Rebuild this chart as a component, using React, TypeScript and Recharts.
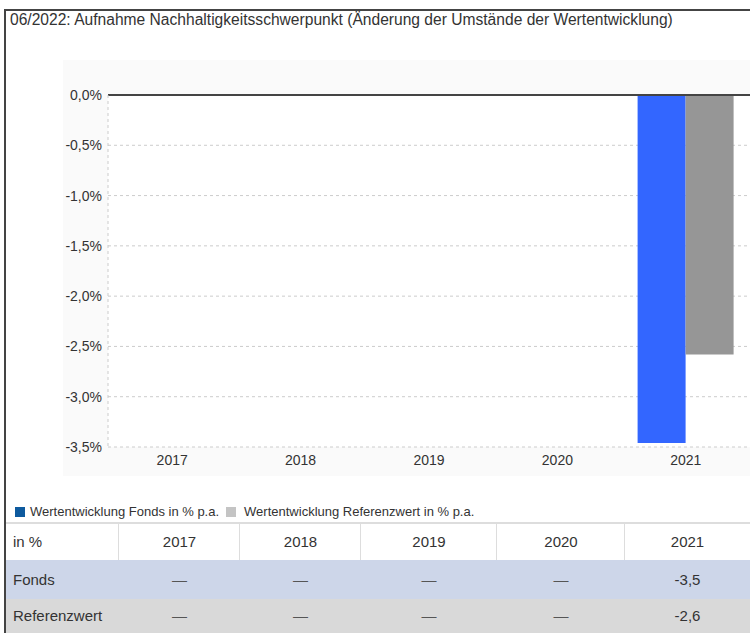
import React from 'react';
import { BarChart, Bar, XAxis, YAxis, CartesianGrid, ReferenceLine } from 'recharts';

const years = ['2017', '2018', '2019', '2020', '2021'];
const fondsValues: (number | null)[] = [null, null, null, null, -3.46];
const refValues: (number | null)[] = [null, null, null, null, -2.58];
const yTicks = [0, -0.5, -1, -1.5, -2, -2.5, -3, -3.5];
const title = '06/2022: Aufnahme Nachhaltigkeitsschwerpunkt (Änderung der Umstände der Wertentwicklung)';
const legendLabels = ['Wertentwicklung Fonds in % p.a.', 'Wertentwicklung Referenzwert in % p.a.'];
const rowLabels = ['Fonds', 'Referenzwert'];
const headerLabel = 'in %';

const data = years.map((y, i) => ({ year: y, fonds: fondsValues[i], referenz: refValues[i] }));

const FONT = '"Liberation Sans", Arial, sans-serif';
const fmtTick = (v: number) => v.toFixed(1).replace('.', ',') + '%';
const fmtCell = (v: number | null) => (v === null ? '—' : (Math.round(v * 10) / 10).toFixed(1).replace('.', ','));

const colEdges = [5, 119, 240, 361, 497, 625, 750];

export default function App() {
  const rows = [fondsValues, refValues];
  const rowBg = ['#cdd6e9', '#d9d9d9'];
  const rowTop = [560, 599];
  const rowH = [39, 34];
  return (
    <div style={{ position: 'absolute', left: 0, top: 0, width: 750, height: 633, overflow: 'hidden', background: '#fff', fontFamily: FONT }}>
      <div style={{ position: 'absolute', left: 4, top: 9, width: 2, height: 624, background: '#444' }} />
      <div style={{ position: 'absolute', left: 4, top: 9, width: 746, height: 2, background: '#444' }} />
      <div style={{ position: 'absolute', left: 10, top: 11, fontSize: 15.6, color: '#333', whiteSpace: 'nowrap' }}>{title}</div>
      <div style={{ position: 'absolute', left: 63, top: 60, width: 687, height: 416, background: '#fafafa' }} />
      <div style={{ position: 'absolute', left: 108, top: 95, width: 642, height: 352, background: '#fff' }} />
      <div style={{ position: 'absolute', left: 0, top: 0 }}>
        <BarChart width={750} height={476} data={data} margin={{ top: 95, right: 0, bottom: 0, left: 0 }} barCategoryGap={16} barGap={0}>
          <CartesianGrid horizontal={true} vertical={false} stroke="#cccccc" strokeDasharray="3 3" />
          <XAxis dataKey="year" height={29} axisLine={false} tickLine={false} tickSize={0} tickMargin={8} tick={{ fill: '#333', fontSize: 14, fontFamily: FONT }} interval={0} />
          <YAxis width={108} domain={[-3.5, 0]} ticks={yTicks} tickFormatter={fmtTick} axisLine={{ stroke: '#cccccc', strokeDasharray: '3 3' }} tickLine={false} tickSize={0} tickMargin={6} tick={{ fill: '#333', fontSize: 14, fontFamily: FONT }} interval={0} />
          <Bar dataKey="fonds" fill="#3366ff" isAnimationActive={false} />
          <Bar dataKey="referenz" fill="#969696" isAnimationActive={false} />
          <ReferenceLine y={0} stroke="#444" strokeWidth={2} />
        </BarChart>
      </div>
      <div style={{ position: 'absolute', left: 15, top: 504, display: 'flex', alignItems: 'center', fontSize: 13, color: '#333', whiteSpace: 'nowrap' }}>
        <span style={{ display: 'inline-block', width: 10, height: 10, background: '#0e5a9e', marginRight: 5 }} />
        <span style={{ marginRight: 7 }}>{legendLabels[0]}</span>
        <span style={{ display: 'inline-block', width: 10, height: 10, background: '#c4c4c4', marginRight: 8 }} />
        <span>{legendLabels[1]}</span>
      </div>
      <div style={{ position: 'absolute', left: 6, top: 522, width: 744, height: 2, background: '#dddddd' }} />
      {colEdges.slice(1, -1).map((x, i) => (
        <div key={'sep' + i} style={{ position: 'absolute', left: x - 1, top: 524, width: 1, height: 36, background: '#dddddd' }} />
      ))}
      <div style={{ position: 'absolute', left: 13, top: 524, height: 36, lineHeight: '36px', fontSize: 15, color: '#333' }}>{headerLabel}</div>
      {years.map((y, i) => (
        <div key={'h' + y} style={{ position: 'absolute', left: colEdges[i + 1], width: colEdges[i + 2] - colEdges[i + 1], top: 524, height: 36, lineHeight: '36px', textAlign: 'center', fontSize: 15, color: '#333' }}>{y}</div>
      ))}
      {rows.map((vals, r) => (
        <React.Fragment key={'r' + r}>
          <div style={{ position: 'absolute', left: 6, top: rowTop[r], width: 744, height: rowH[r], background: rowBg[r] }} />
          <div style={{ position: 'absolute', left: 13, top: rowTop[r], height: rowH[r], lineHeight: rowH[r] + 'px', fontSize: 15, color: '#333' }}>{rowLabels[r]}</div>
          {vals.map((v, i) => (
            <div key={'c' + i} style={{ position: 'absolute', left: colEdges[i + 1], width: colEdges[i + 2] - colEdges[i + 1], top: rowTop[r], height: rowH[r], lineHeight: rowH[r] + 'px', textAlign: 'center', fontSize: 15, color: v === null ? '#555' : '#333' }}>{fmtCell(v)}</div>
          ))}
        </React.Fragment>
      ))}
    </div>
  );
}
